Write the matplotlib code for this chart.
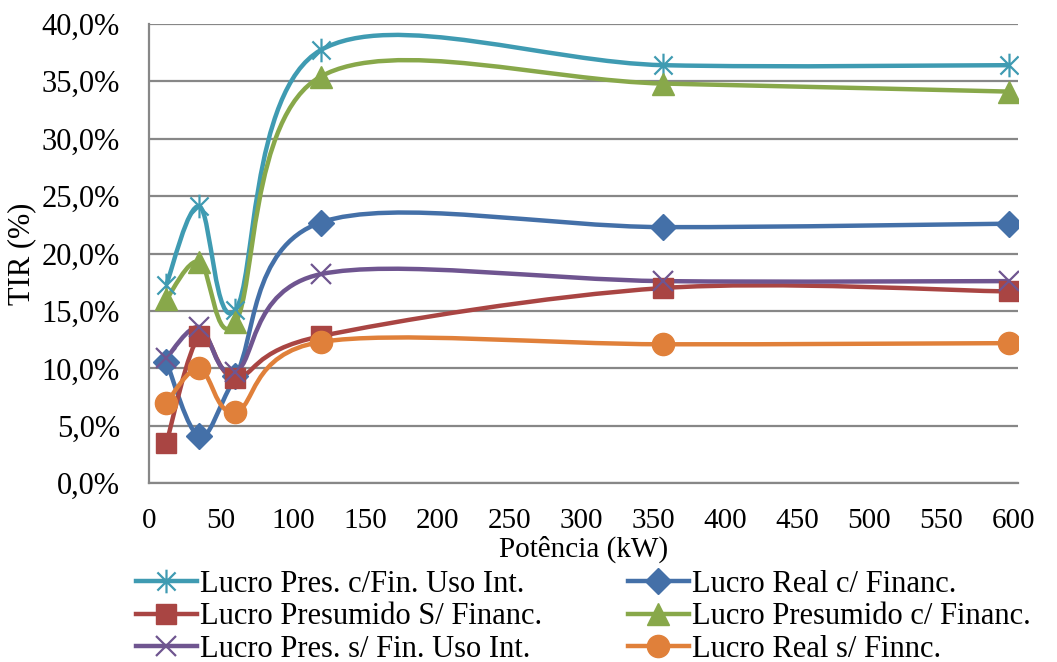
import numpy as np
import matplotlib.pyplot as plt
from matplotlib.path import Path
from matplotlib.patches import PathPatch
from matplotlib.lines import Line2D

plt.rcParams['font.family'] = ['Liberation Serif', 'DejaVu Serif']

# potência (kW)
potencia = [12, 35, 60, 119, 357, 597]

# TIR (%) por cenário
pres_cfin_uso = [17.3, 24.1, 15.1, 37.7, 36.4, 36.4]
real_cfin = [10.6, 4.1, 9.3, 22.7, 22.3, 22.6]
pres_sfin = [3.5, 12.8, 9.2, 12.8, 17.0, 16.7]
pres_cfin = [16.0, 19.3, 14.0, 35.4, 34.8, 34.1]
pres_sfin_uso = [10.9, 13.6, 9.7, 18.2, 17.6, 17.6]
real_sfin = [7.0, 10.0, 6.2, 12.3, 12.1, 12.2]

labels = [
    "Lucro Pres. c/Fin. Uso Int.",
    "Lucro Real c/ Financ.",
    "Lucro Presumido S/ Financ.",
    "Lucro Presumido c/ Financ.",
    "Lucro Pres. s/ Fin. Uso Int.",
    "Lucro Real s/ Finnc.",
]
series = [pres_cfin_uso, real_cfin, pres_sfin, pres_cfin, pres_sfin_uso, real_sfin]
colors = ["#3F9BB2", "#4470A8", "#A94543", "#88A84A", "#6F5590", "#E0803A"]

# star marker as in Excel: an "x" plus a vertical bar
star = Path([(-1, -1), (1, 1), (-1, 1), (1, -1), (0, -1.3), (0, 1.3)],
            [Path.MOVETO, Path.LINETO, Path.MOVETO, Path.LINETO,
             Path.MOVETO, Path.LINETO])
markers = [star, "D", "s", "^", "x", "o"]
msizes = [17, 13, 14, 16, 15, 16]
mews = [1.6, 1, 1, 1, 1.6, 1]

x_ticks = list(range(0, 601, 50))
y_ticks = list(range(0, 41, 5))


def smooth_path(x, y):
    # Excel-like smoothed line: cubic Bezier segments (Catmull-Rom tangents)
    pts = np.column_stack([x, y]).astype(float)
    n = len(pts)
    verts = [pts[0]]
    codes = [Path.MOVETO]
    for i in range(n - 1):
        p0 = pts[i - 1] if i > 0 else pts[i]
        p1, p2 = pts[i], pts[i + 1]
        p3 = pts[i + 2] if i + 2 < n else pts[i + 1]
        c1 = p1 + (p2 - p0) / 6
        c2 = p2 - (p3 - p1) / 6
        verts += [c1, c2, p2]
        codes += [Path.CURVE4] * 3
    return Path(verts, codes)


fig = plt.figure(figsize=(10.57, 6.62), dpi=100)
ax = fig.add_axes([0.141, 0.270, 0.822, 0.694])

handles = []
for vals, lab, c, m, ms, mew in zip(series, labels, colors, markers, msizes, mews):
    ax.add_patch(PathPatch(smooth_path(potencia, vals), facecolor="none",
                           edgecolor=c, lw=3.2, zorder=3))
    ax.plot(potencia, vals, linestyle="none", marker=m, color=c, ms=ms,
            mew=mew, mec=c, zorder=4)
    handles.append(Line2D([], [], color=c, lw=3.2, marker=m, ms=ms, mew=mew,
                          mec=c, label=lab))

ax.set_xlim(0, 603)
ax.set_ylim(0, 40)
ax.set_xticks(x_ticks)
ax.set_yticks(y_ticks)
ax.set_yticklabels([f"{v:.1f}%".replace(".", ",") for v in y_ticks])
ax.tick_params(axis="y", length=0, labelsize=22, pad=21)
ax.tick_params(axis="x", length=0, labelsize=21, pad=18)
ax.yaxis.grid(True, color="#878787", lw=1.6)
ax.set_axisbelow(True)
for s in ["top", "right"]:
    ax.spines[s].set_visible(False)
for s in ["left", "bottom"]:
    ax.spines[s].set_color("#878787")
    ax.spines[s].set_linewidth(1.6)

ax.set_xlabel("Potência (kW)", fontsize=21, labelpad=1)
ax.set_ylabel("TIR (%)", fontsize=22, labelpad=4)

order = [0, 2, 4, 1, 3, 5]
fig.legend([handles[i] for i in order], [labels[i] for i in order],
           loc="upper left", bbox_to_anchor=(0.117, 0.158), ncol=2,
           frameon=False, fontsize=22, handlelength=2.0, handletextpad=0.1,
           columnspacing=2.8, labelspacing=0.12, borderaxespad=0)

fig.savefig("out.png", dpi=100)
